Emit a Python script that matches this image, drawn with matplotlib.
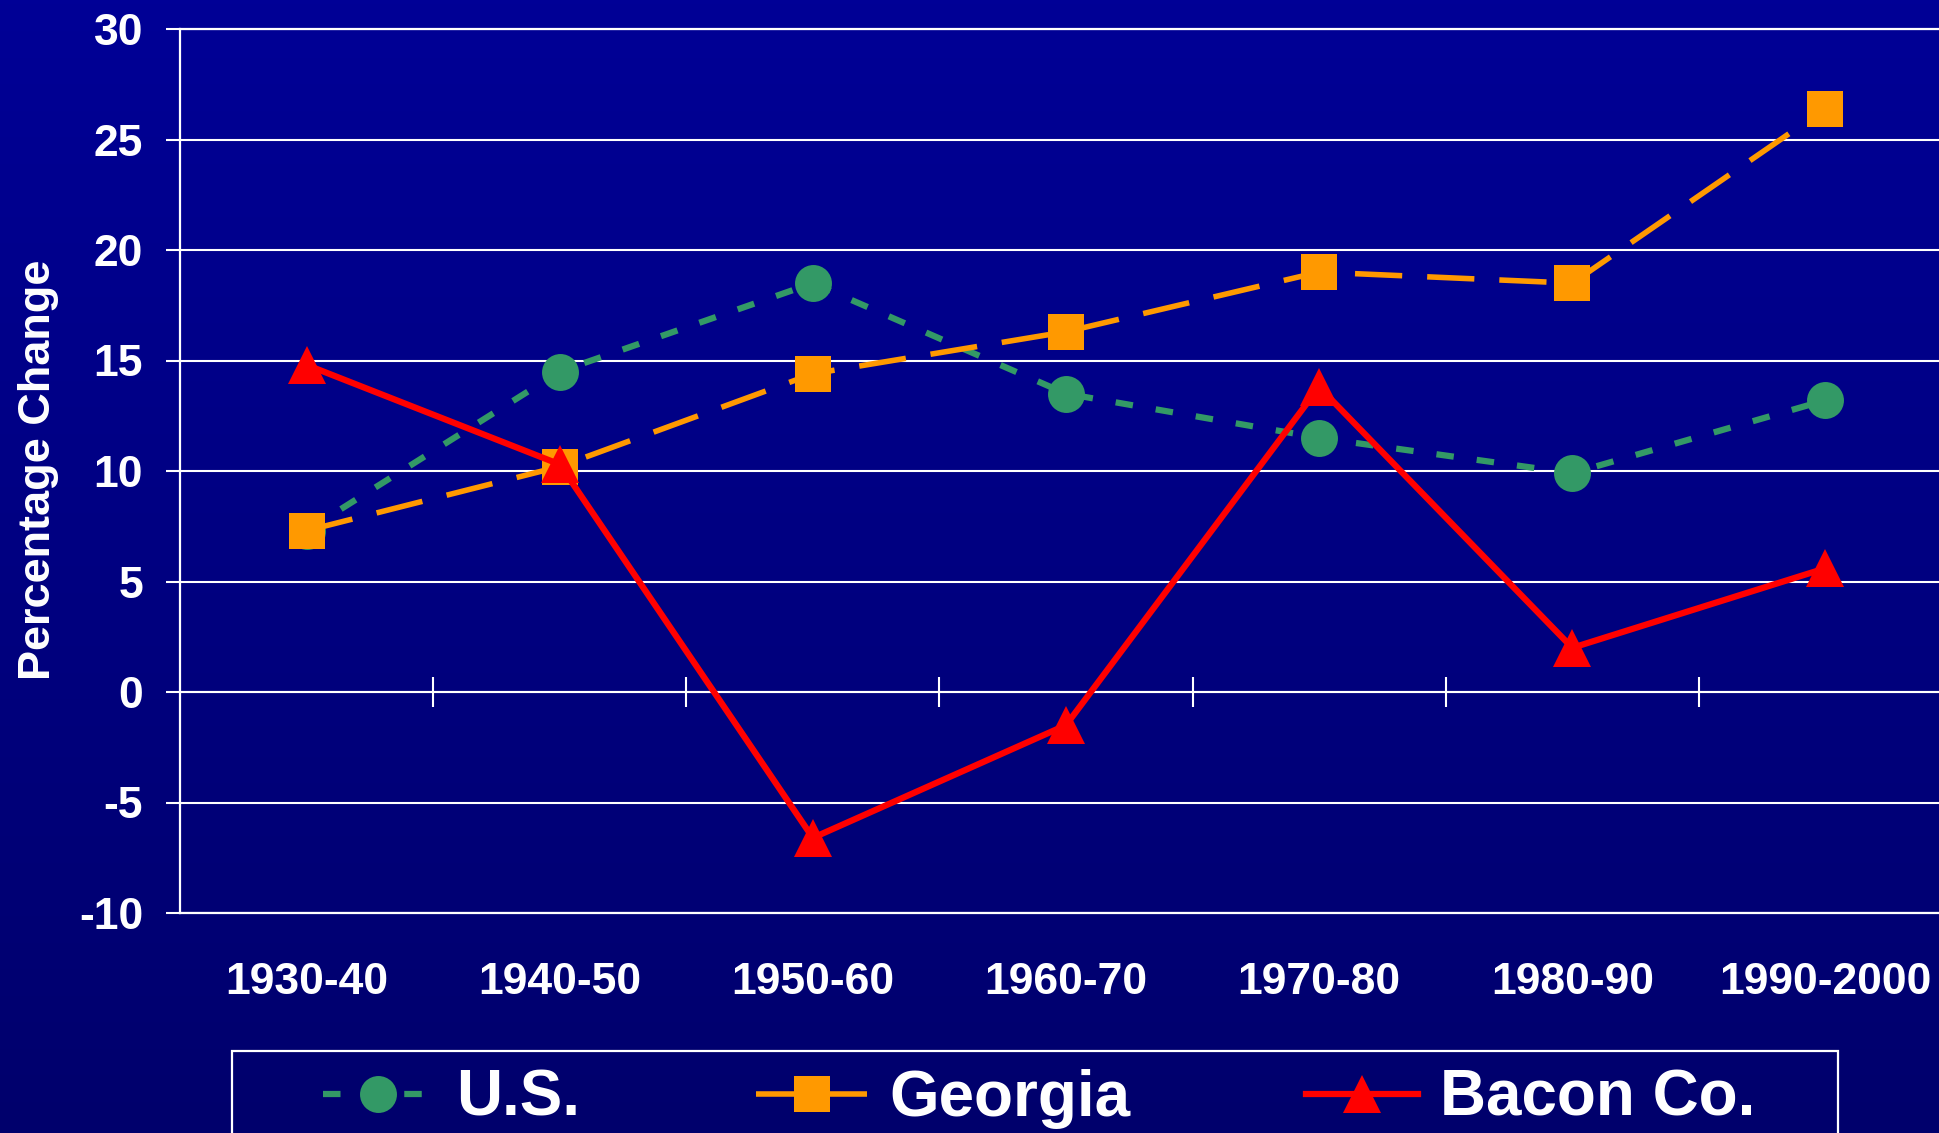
import numpy as np
import matplotlib
matplotlib.use('Agg')
import matplotlib.pyplot as plt
from matplotlib.patches import Rectangle

# ---- data ----
categories = ['1930-40', '1940-50', '1950-60', '1960-70', '1970-80', '1980-90', '1990-2000']
us = [7.3, 14.5, 18.5, 13.5, 11.5, 9.9, 13.2]
georgia = [7.3, 10.2, 14.4, 16.3, 19.0, 18.5, 26.4]
bacon = [14.8, 10.3, -6.6, -1.5, 13.8, 2.0, 5.6]
series_names = ['U.S.', 'Georgia', 'Bacon Co.']
yticks = [-10, -5, 0, 5, 10, 15, 20, 25, 30]
ylabel = 'Percentage Change'

plt.rcParams['font.family'] = ['Liberation Sans', 'DejaVu Sans']
plt.rcParams['font.weight'] = 'bold'
plt.rcParams['axes.unicode_minus'] = False

W, H = 1940, 1133
fig = plt.figure(figsize=(W / 100, H / 100), dpi=100)

# background gradient
bg = fig.add_axes([0, 0, 1, 1], zorder=-10)
g = np.linspace(0, 1, 256)
top = np.array([0, 0, 150]) / 255
bot = np.array([0, 0, 108]) / 255
img = top[None, :] * (1 - g[:, None]) + bot[None, :] * g[:, None]
bg.imshow(img[:, None, :], aspect='auto', extent=[0, 1, 0, 1], origin='upper')
bg.set_axis_off()

ax = fig.add_axes([180 / W, 1 - 913 / H, 1772 / W, (913 - 29) / H])
ax.set_facecolor('none')
x = np.arange(len(categories))

l1, = ax.plot(x, us, color='#339966', lw=4.5, dashes=(2.8, 3.7), marker='o', ms=26.6,
              mew=0, label=series_names[0], zorder=3)
l2, = ax.plot(x, georgia, color='#FF9900', lw=4, dashes=(8.5, 4.5), marker='s', ms=26,
              mew=0, label=series_names[1], zorder=4)
l3, = ax.plot(x, bacon, color='#FF0000', lw=4.5, marker='^', ms=28,
              mew=0, label=series_names[2], zorder=5)

ax.set_xlim(-0.5, len(categories) - 0.5)
ax.set_ylim(yticks[0], yticks[-1])
ax.set_yticks(yticks)
ax.set_xticks(x)
ax.set_xticklabels(categories)
ax.grid(axis='y', color='white', lw=1.5)
ax.set_axisbelow(True)
ax.spines['right'].set_visible(False)
for s in ['left', 'top', 'bottom']:
    ax.spines[s].set_color('white')
    ax.spines[s].set_linewidth(1.6)
ax.tick_params(axis='y', direction='out', length=10, width=1.5, color='white',
               labelcolor='white', labelsize=32, pad=16.5)
ax.tick_params(axis='x', length=0, labelcolor='white', labelsize=32, pad=35)

# category axis crossing at zero with tick marks between categories
zero_frac = (0 - yticks[0]) / (yticks[-1] - yticks[0])
sec = ax.secondary_xaxis(zero_frac)
sec.set_xticks(np.arange(len(categories) - 1) + 0.5)
sec.tick_params(direction='inout', length=21.6, width=1.5, color='white', labelbottom=False,
                labeltop=False)
sec.spines['bottom'].set_color('white')
sec.spines['bottom'].set_linewidth(1.5)
sec.spines['top'].set_visible(False)

fig.text(39 / W, 1 - 470 / H, ylabel, rotation=90, ha='center', va='center',
         color='white', fontsize=32.5, fontweight='bold')

# legend
fig.legend([l1, l2, l3], series_names, loc='center', bbox_to_anchor=(1039 / W, 1 - 1099 / H),
           ncol=3, frameon=False, fontsize=45.9, handlelength=1.75, handletextpad=0.35,
           columnspacing=2.75, labelcolor='white')
fig.patches.append(Rectangle((232 / W, -0.05), 1606 / W, 0.05 + 1 - 1051 / H,
                             transform=fig.transFigure, fill=False, ec='white', lw=1.6))

fig.savefig('out.png', dpi=100)
